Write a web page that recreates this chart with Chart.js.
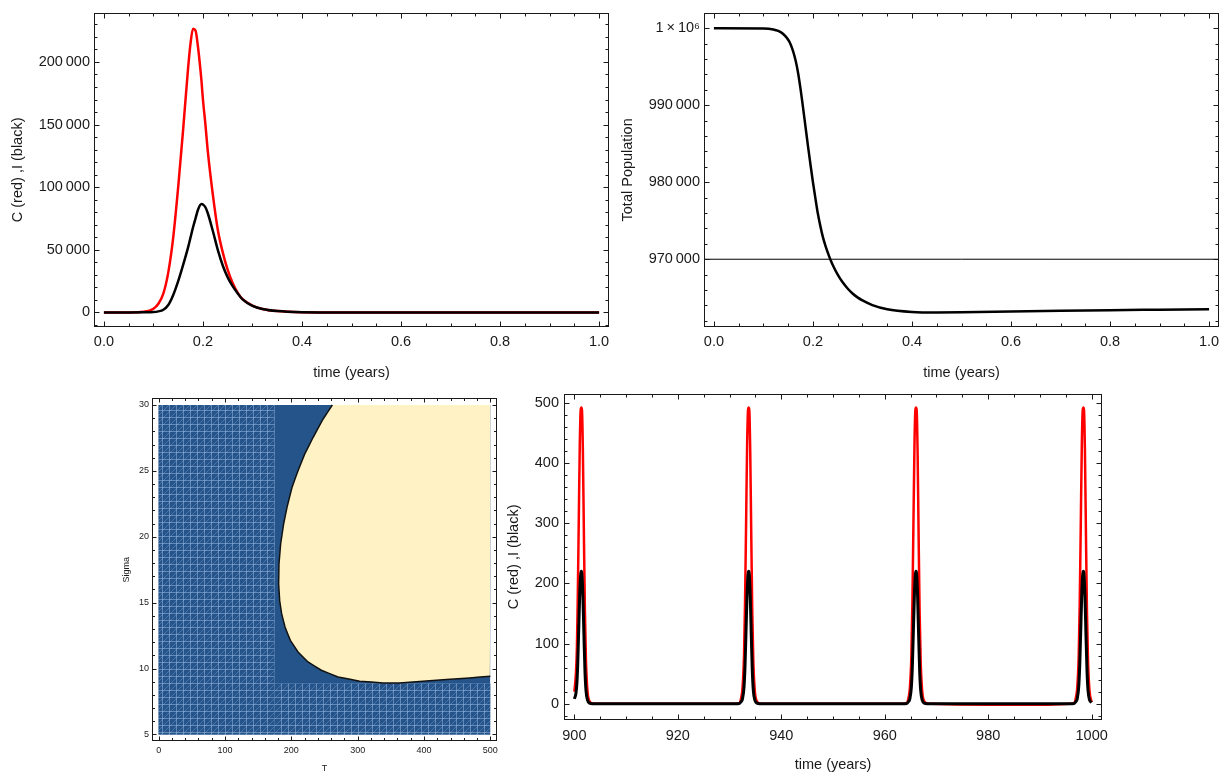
<!DOCTYPE html>
<html>
<head>
<meta charset="utf-8">
<script src="https://cdn.jsdelivr.net/npm/chart.js@4.4.0/dist/chart.umd.min.js"></script>
<style>
body { margin: 0; width: 1220px; height: 775px; overflow: hidden; background: #fff; position: relative; }
.box { position: absolute; }
</style>
</head>
<body>
<div class="box" style="left:0px;top:0px;width:660px;height:390px"><canvas id="ciChart"></canvas></div>
<div class="box" style="left:610px;top:0px;width:640px;height:390px"><canvas id="popChart"></canvas></div>
<div class="box" style="left:100px;top:390px;width:440px;height:385px"><canvas id="regionChart"></canvas></div>
<div class="box" style="left:490px;top:380px;width:650px;height:395px"><canvas id="longChart"></canvas></div>
<script>
// first year: C (red) and I (black)
var yearTime = [0, 0.05, 0.08, 0.1, 0.11, 0.12, 0.13, 0.14, 0.15, 0.16, 0.17, 0.175, 0.18, 0.185, 0.19, 0.197, 0.2, 0.205, 0.21, 0.22, 0.23, 0.24, 0.25, 0.26, 0.27, 0.28, 0.3, 0.32, 0.35, 0.4, 0.5, 0.6, 0.8, 1.0];
var cRed = [0, 60, 600, 3000, 7000, 15000, 32000, 60000, 100000, 146000, 195000, 215000, 226500, 225000, 212000, 185000, 170000, 150000, 128000, 94000, 66000, 48000, 34000, 23500, 15800, 10600, 5400, 2800, 1100, 250, 30, 5, 0, 0];
var iBlack = [0, 10, 80, 300, 900, 2200, 6000, 14000, 25000, 38000, 52000, 60000, 68000, 75000, 82000, 86500, 86200, 84000, 79000, 65000, 50000, 37500, 28000, 21000, 15300, 10400, 5300, 2750, 1080, 245, 30, 5, 0, 0];
var yearTicks = [0, 0.2, 0.4, 0.6, 0.8, 1.0];
var ciTicks = [0, 50000, 100000, 150000, 200000];
var yearRange = [-0.02, 1.02];
var ciRange = [-11600, 239300];

// first year: total population
var popTime = [0, 0.1, 0.12, 0.13, 0.14, 0.15, 0.155, 0.16, 0.165, 0.17, 0.175, 0.18, 0.185, 0.19, 0.195, 0.2, 0.205, 0.21, 0.215, 0.22, 0.225, 0.23, 0.235, 0.24, 0.25, 0.26, 0.27, 0.28, 0.29, 0.3, 0.32, 0.35, 0.4, 0.45, 0.5, 0.6, 0.7, 0.8, 0.9, 1.0];
var popTotal = [1000000, 999970, 999850, 999650, 999250, 998500, 997900, 997000, 995800, 994200, 992100, 989700, 987200, 984700, 982300, 980000, 977900, 975900, 974300, 972900, 971800, 970850, 970000, 969250, 968000, 967000, 966200, 965550, 965050, 964650, 964050, 963500, 963150, 963080, 963100, 963200, 963300, 963380, 963450, 963520];
var popTicks = [970000, 980000, 990000, 1000000];
var popRange = [961200, 1002020];
var popAxisAt = 970000;

// region plot T vs Sigma
var tTicks = [0, 100, 200, 300, 400, 500];
var sigmaTicks = [5, 10, 15, 20, 25, 30];
var tRange = [-10, 510];
var sigmaRange = [4.5, 30.5];
var regionT = [0, 500];
var regionSigma = [5, 30];
var hatchT = 175;
var hatchSigma = 8.86;
var edgeT = [261.8, 247.7, 232.7, 220.1, 210.1, 201.0, 193.5, 188.4, 183.9, 181.4, 180.9, 182.4, 185.4, 190.5, 198.5, 210.1, 225.1, 245.2, 270.4, 303.0, 338.2, 363.3, 393.5, 433.7, 468.8, 500.0];
var edgeSigma = [30.0, 28.92, 27.53, 26.27, 25.01, 23.74, 22.23, 20.97, 19.45, 17.94, 16.43, 15.17, 14.16, 13.15, 12.14, 11.26, 10.5, 9.87, 9.36, 9.04, 8.91, 8.91, 9.01, 9.16, 9.29, 9.41];

// years 900-1000: C (red) and I (black)
var longTime = [900, 900.3, 900.5, 900.65, 900.85, 901.05, 901.23, 901.35, 901.47, 901.65, 901.85, 902.05, 902.25, 902.55, 902.95, 903.55, 904.4,
  912, 922, 931.1,
  931.9, 932.2, 932.5, 932.8, 933.0, 933.2, 933.4, 933.58, 933.7, 933.82, 934.0, 934.2, 934.4, 934.6, 934.9, 935.3, 935.9, 936.7,
  946, 955, 963.5,
  964.25, 964.55, 964.85, 965.15, 965.35, 965.55, 965.75, 965.93, 966.05, 966.17, 966.35, 966.55, 966.75, 966.95, 967.25, 967.65, 968.25, 969.05,
  980, 990, 995.8,
  996.6, 996.9, 997.2, 997.5, 997.7, 997.9, 998.1, 998.28, 998.4, 998.52, 998.7, 998.9, 999.1, 999.3, 999.6, 1000];
var longC = [20, 50, 95, 170, 300, 430, 488, 492, 488, 420, 280, 150, 70, 20, 4, 0.5, 0,
  0, 0, 0,
  1, 8, 25, 80, 170, 300, 430, 488, 492, 488, 420, 280, 150, 70, 20, 4, 0.5, 0,
  0, 0, 0,
  1, 8, 25, 80, 170, 300, 430, 488, 492, 488, 420, 280, 150, 70, 20, 4, 0.5, 0,
  -1.5, -1.5, 0,
  1, 8, 25, 80, 170, 300, 430, 488, 492, 488, 420, 280, 150, 70, 20, 3];
var longI = [8, 17, 35, 65, 125, 185, 215, 220, 215, 180, 115, 55, 22, 6, 1, 0.1, 0,
  0, 0, 0,
  0.3, 3, 8, 28, 65, 125, 185, 215, 220, 215, 180, 115, 55, 22, 6, 1, 0.1, 0,
  0, 0, 0,
  0.3, 3, 8, 28, 65, 125, 185, 215, 220, 215, 180, 115, 55, 22, 6, 1, 0.1, 0,
  0, 0, 0,
  0.3, 3, 8, 28, 65, 125, 185, 215, 220, 215, 180, 115, 55, 22, 6, 2];
var longTicks = [900, 920, 940, 960, 980, 1000];
var longYTicks = [0, 100, 200, 300, 400, 500];
var longRange = [898, 1002];
var longYRange = [-27, 515];

Chart.defaults.font.family = '"Liberation Sans", Arial, sans-serif';
Chart.defaults.color = '#1a1a1a';
Chart.defaults.animation = false;

var BLUE = '#25548a';
var YELLOW = '#fff2c4';

function pts(xs, ys) {
    return xs.map(function (x, i) { return { x: x, y: ys[i] }; });
}

function groupDigits(v) {
    if (v === 1000000) return '1\u2009\u00d7\u200910\u2076';
    var s = String(Math.round(v));
    return s.length > 4 ? s.replace(/\B(?=(\d{3})+(?!\d))/g, '\u2009') : s;
}
function oneDecimal(v) {
    return Number(v).toFixed(1);
}

function makeScale(o) {
    return {
        type: 'linear',
        min: o.range[0],
        max: o.range[1],
        grid: { display: false, drawTicks: false },
        border: { display: false },
        ticks: { padding: o.pad, font: { size: o.size }, maxRotation: 0, autoSkip: false, callback: o.fmt || groupDigits },
        title: { display: true, text: o.title, font: { size: o.size }, padding: o.titlePad },
        afterBuildTicks: function (s) {
            s.ticks = o.ticks.map(function (v) { return { value: v }; });
        },
        afterFit: function (s) {
            if (s.isHorizontal()) s.height = o.band; else s.width = o.band;
        }
    };
}

// mathematica style frame with ticks on all four sides
var frameTicks = {
    id: 'frameTicks',
    afterDatasetsDraw: function (chart, args, o) {
        var ctx = chart.ctx, a = chart.chartArea;
        var l = Math.round(a.left) + 0.5, r = Math.round(a.right) - 0.5;
        var t = Math.round(a.top) + 0.5, b = Math.round(a.bottom) - 0.5;
        ctx.save();
        ctx.strokeStyle = '#1a1a1a';
        ctx.lineWidth = 1;
        ctx.strokeRect(l, t, r - l, b - t);
        ctx.beginPath();
        function marks(scale, step, horiz) {
            var majors = scale.ticks.map(function (k) { return k.value; });
            var i0 = Math.ceil(scale.min / step - 1e-6), i1 = Math.floor(scale.max / step + 1e-6);
            for (var i = i0; i <= i1; i++) {
                var v = i * step;
                var big = majors.some(function (m) { return Math.abs(m - v) < step / 10; });
                var len = big ? o.major : o.minor;
                var p = Math.round(scale.getPixelForValue(v)) + 0.5;
                if (horiz) {
                    ctx.moveTo(p, b); ctx.lineTo(p, b - len);
                    ctx.moveTo(p, t); ctx.lineTo(p, t + len);
                } else {
                    ctx.moveTo(l, p); ctx.lineTo(l + len, p);
                    ctx.moveTo(r, p); ctx.lineTo(r - len, p);
                }
            }
        }
        marks(chart.scales.x, o.xMinor, true);
        marks(chart.scales.y, o.yMinor, false);
        ctx.stroke();
        ctx.restore();
    }
};

function baseOptions(pad, ft, xs, ys) {
    return {
        responsive: true,
        maintainAspectRatio: false,
        layout: { padding: pad },
        elements: { point: { radius: 0 }, line: { cubicInterpolationMode: 'monotone', fill: false } },
        plugins: { legend: { display: false }, tooltip: { enabled: false }, frameTicks: ft },
        scales: { x: xs, y: ys }
    };
}

new Chart(document.getElementById('ciChart'), {
    type: 'line',
    data: {
        datasets: [
            { data: pts(yearTime, iBlack), borderColor: '#000', borderWidth: 2.5 },
            { data: pts(yearTime, cRed), borderColor: '#ff0000', borderWidth: 2.5 }
        ]
    },
    options: baseOptions({ left: 0, top: 9, right: 51, bottom: 0 },
        { xMinor: 0.05, yMinor: 10000, major: 5, minor: 3 },
        makeScale({ range: yearRange, ticks: yearTicks, fmt: oneDecimal, title: 'time (years)', size: 14.5, pad: 6, titlePad: { top: 4, bottom: 8 }, band: 63 }),
        makeScale({ range: ciRange, ticks: ciTicks, title: 'C (red) ,I (black)', size: 14.5, pad: 4, titlePad: { top: 9, bottom: 0 }, band: 94 })),
    plugins: [frameTicks]
});

new Chart(document.getElementById('popChart'), {
    type: 'line',
    data: {
        datasets: [
            { data: pts(popTime, popTotal), borderColor: '#000', borderWidth: 2.5 },
            { data: pts(yearRange, [popAxisAt, popAxisAt]), borderColor: '#000', borderWidth: 1 }
        ]
    },
    options: baseOptions({ left: 0, top: 9, right: 31, bottom: 0 },
        { xMinor: 0.05, yMinor: 2000, major: 5, minor: 3 },
        makeScale({ range: yearRange, ticks: yearTicks, fmt: oneDecimal, title: 'time (years)', size: 14.5, pad: 6, titlePad: { top: 4, bottom: 8 }, band: 63 }),
        makeScale({ range: popRange, ticks: popTicks, title: 'Total Population', size: 14.5, pad: 4, titlePad: { top: 9, bottom: 0 }, band: 94 })),
    plugins: [frameTicks]
});

// hatched mesh texture for the shaded parts of the region plot
var tile = document.createElement('canvas');
tile.width = 7; tile.height = 7;
var tc = tile.getContext('2d');
tc.fillStyle = BLUE;
tc.fillRect(0, 0, 7, 7);
tc.strokeStyle = 'rgba(150,180,222,0.55)';
tc.lineWidth = 1;
tc.beginPath(); tc.moveTo(6.5, 0); tc.lineTo(6.5, 7); tc.moveTo(0, 6.5); tc.lineTo(7, 6.5); tc.stroke();
tc.strokeStyle = 'rgba(150,180,222,0.35)';
tc.beginPath(); tc.moveTo(0, 7); tc.lineTo(7, 0); tc.stroke();
var hatch = tc.createPattern(tile, 'repeat');

function rect(x0, x1, y0, y1) {
    return [{ x: x0, y: y0 }, { x: x1, y: y0 }, { x: x1, y: y1 }, { x: x0, y: y1 }];
}
var edge = pts(edgeT, edgeSigma);

var regionOpts = baseOptions({ left: 0, top: 7, right: 43, bottom: 0 },
    { xMinor: 20, yMinor: 1, major: 4, minor: 2.5 },
    makeScale({ range: tRange, ticks: tTicks, title: 'T', size: 9, pad: 4, titlePad: { top: 2, bottom: 0.6 }, band: 34 }),
    makeScale({ range: sigmaRange, ticks: sigmaTicks, title: 'Sigma', size: 9, pad: 3, titlePad: { top: 21.6, bottom: 0 }, band: 52 }));
regionOpts.elements.line = { tension: 0.0001, fill: false };

new Chart(document.getElementById('regionChart'), {
    type: 'line',
    data: {
        datasets: [
            { data: edge, borderColor: '#111', borderWidth: 1.5 },
            { data: edge.concat([{ x: regionT[1], y: regionSigma[1] }]), fill: 'shape', backgroundColor: YELLOW, borderWidth: 0 },
            { data: rect(hatchT, regionT[1], regionSigma[0], hatchSigma), fill: 'shape', backgroundColor: hatch, borderWidth: 0 },
            { data: rect(regionT[0], hatchT, regionSigma[0], regionSigma[1]), fill: 'shape', backgroundColor: hatch, borderWidth: 0 },
            { data: rect(regionT[0], regionT[1], regionSigma[0], regionSigma[1]), fill: 'shape', backgroundColor: BLUE, borderWidth: 0 }
        ]
    },
    options: regionOpts,
    plugins: [frameTicks]
});

new Chart(document.getElementById('longChart'), {
    type: 'line',
    data: {
        datasets: [
            { data: pts(longTime, longI), borderColor: '#000', borderWidth: 3 },
            { data: pts(longTime, longC), borderColor: '#ff0000', borderWidth: 2.5 }
        ]
    },
    options: baseOptions({ left: 0, top: 8, right: 38, bottom: 0 },
        { xMinor: 5, yMinor: 20, major: 5, minor: 3 },
        makeScale({ range: longRange, ticks: longTicks, title: 'time (years)', size: 14.5, pad: 7, titlePad: { top: 4, bottom: 1.3 }, band: 55 }),
        makeScale({ range: longYRange, ticks: longYTicks, title: 'C (red) ,I (black)', size: 14.5, pad: 5, titlePad: { top: 15.3, bottom: 0 }, band: 74 })),
    plugins: [frameTicks]
});
</script>
</body>
</html>
